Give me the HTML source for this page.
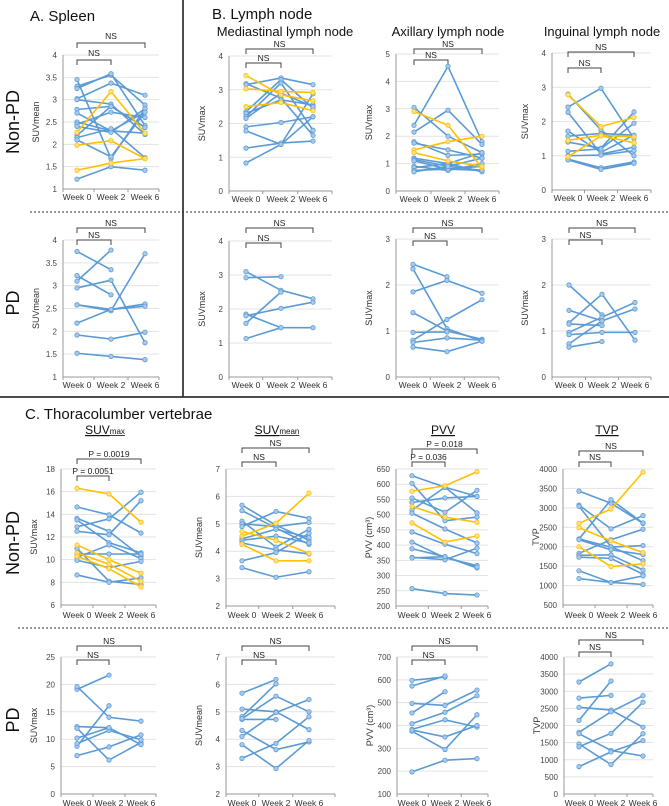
<!DOCTYPE html>
<html><head><meta charset="utf-8"><style>
html,body{margin:0;padding:0;background:#fff;}
svg{display:block;font-family:"Liberation Sans",sans-serif;}
</style></head><body>
<svg id="fig" width="669" height="806" viewBox="0 0 669 806" xmlns="http://www.w3.org/2000/svg">
<g fill="#111">
<text x="30" y="21" font-size="15">A.  Spleen</text>
<text x="212" y="19" font-size="15">B. Lymph node</text>
<text x="285" y="36" font-size="13" text-anchor="middle">Mediastinal lymph node</text>
<text x="448" y="36" font-size="13" text-anchor="middle">Axillary lymph node</text>
<text x="602" y="36" font-size="13" text-anchor="middle">Inguinal lymph node</text>
<text x="25" y="419" font-size="15">C. Thoracolumber vertebrae</text>
<text transform="translate(19,122) rotate(-90)" font-size="18" text-anchor="middle">Non-PD</text>
<text transform="translate(19,303) rotate(-90)" font-size="18" text-anchor="middle">PD</text>
<text transform="translate(19,543) rotate(-90)" font-size="18" text-anchor="middle">Non-PD</text>
<text transform="translate(19,720) rotate(-90)" font-size="18" text-anchor="middle">PD</text>
<text x="105" y="434" font-size="12" text-anchor="middle" text-decoration="underline">SUV<tspan font-size="8">max</tspan></text>
<text x="277" y="434" font-size="12" text-anchor="middle" text-decoration="underline">SUV<tspan font-size="8">mean</tspan></text>
<text x="443" y="434" font-size="12" text-anchor="middle" text-decoration="underline">PVV</text>
<text x="607" y="434" font-size="12" text-anchor="middle" text-decoration="underline">TVP</text>
</g>
<g>
<line x1="183" y1="0" x2="183" y2="397" stroke="#111" stroke-width="1.5"/>
<line x1="0" y1="397" x2="669" y2="397" stroke="#333" stroke-width="1.8"/>
<line x1="30" y1="212" x2="669" y2="212" stroke="#333" stroke-width="1" stroke-dasharray="2,2"/>
<line x1="18" y1="628" x2="669" y2="628" stroke="#333" stroke-width="1" stroke-dasharray="2,2"/>
</g>
<g id="charts"></g>
</svg>
<script>
// ---- data ----
const weeks = ["Week 0","Week 2","Week 6"];
const spleenNonPdBlue = [[1.22,1.5,1.42],[3.45,1.68,2.8],[3.3,3.55,2.88],[3.25,3.58,2.42],[3.02,3.37,3.1],[3.0,2.9,2.22],[2.78,2.85,2.38],[2.7,2.3,2.25],[2.5,2.3,2.72],[2.45,2.72,2.6],[2.4,2.27,2.8],[2.2,2.85,2.38],[2.15,2.35,1.7],[2.1,1.72,2.72]];
const spleenNonPdYellow = [[2.27,3.18,2.25],[1.98,2.08,1.68],[1.42,1.58,1.68]];
const spleenPdBlue = [[3.75,3.35,null],[3.22,2.8,null],[3.1,3.78,null],[2.95,3.12,1.75],[2.58,2.45,3.7],[2.58,2.48,2.6],[2.18,2.48,2.55],[1.92,1.83,1.98],[1.52,1.45,1.38]];
const medNonPdBlue = [[3.18,2.75,1.65],[3.15,3.35,3.15],[2.35,3.3,2.45],[2.3,2.7,2.55],[2.2,3.2,1.8],[2.15,2.9,2.5],[1.9,2.03,2.2],[1.78,1.38,2.88],[1.27,1.42,1.48],[0.83,1.38,2.2]];
const medNonPdYellow = [[3.42,2.85,2.67],[3.03,2.95,2.92],[2.5,2.62,2.38]];
const axNonPdBlue = [[3.05,2.0,1.4],[2.4,4.55,1.8],[2.15,2.95,1.7],[1.8,1.3,1.35],[1.75,1.5,1.2],[1.2,1.0,1.4],[1.15,0.9,1.2],[1.1,0.8,0.75],[0.9,0.75,1.0],[0.85,1.0,0.7],[0.75,0.8,0.9],[0.7,0.9,0.75]];
const axNonPdYellow = [[2.9,2.4,0.85],[1.5,1.8,2.0],[1.4,1.1,0.9]];
const ingNonPdBlue = [[2.8,1.75,1.0],[2.42,2.97,1.5],[2.27,1.05,1.25],[1.72,1.1,1.6],[1.57,1.65,1.6],[1.4,1.22,2.28],[1.13,1.2,1.95],[1.0,1.02,1.15],[0.9,0.65,0.82],[0.88,0.6,0.78]];
const ingNonPdYellow = [[2.78,1.85,2.12],[1.45,1.6,1.55],[0.97,1.58,1.38]];
const medPdBlue = [[3.1,2.55,2.3],[2.92,2.95,null],[1.85,1.45,1.45],[1.8,2.02,2.2],[1.58,2.5,null],[1.13,1.45,null]];
const axPdBlue = [[2.45,2.18,null],[2.35,1.05,0.78],[1.85,2.1,1.82],[1.4,1.0,0.82],[0.97,0.98,null],[0.8,1.25,1.68],[0.75,0.85,0.8],[0.65,0.55,0.78]];
const ingPdBlue = [[2.0,1.35,null],[1.45,1.22,null],[1.18,1.8,0.8],[1.15,1.12,null],[0.97,1.3,1.62],[0.92,0.97,0.97],[0.72,1.22,1.48],[0.65,0.77,null]];
const vSuvmaxNonPdBlue = [[14.65,13.95,12.35],[13.65,12.5,10.3],[13.5,11.5,10.6],[12.9,13.6,15.95],[12.5,12.2,15.2],[11.0,8.1,7.8],[10.5,10.5,10.5],[10.2,11.3,10.1],[9.95,9.3,9.85],[8.65,8.0,8.4]];
const vSuvmaxNonPdYellow = [[16.3,15.8,13.3],[11.3,10.0,8.8],[10.6,9.6,8.1],[10.3,9.2,7.6]];
const vSuvmeanNonPdBlue = [[5.68,4.95,4.4],[5.48,4.85,4.25],[5.1,4.15,4.8],[5.0,4.9,5.05],[4.9,5.45,5.2],[4.45,4.8,4.5],[4.4,4.55,4.3],[4.3,4.05,3.9],[3.65,3.95,4.65],[3.4,3.05,3.25]];
const vSuvmeanNonPdYellow = [[4.55,5.02,6.12],[4.72,4.4,3.92],[4.25,3.65,3.65]];
const pvvNonPdBlue = [[628,590,506],[603,480,492],[555,508,580],[540,555,560],[515,590,560],[505,453,407],[443,403,372],[410,358,333],[388,362,325],[360,352,390],[358,362,328],[257,241,236]];
const pvvNonPdYellow = [[577,595,641],[527,492,475],[473,410,430]];
const tvpNonPdBlue = [[3430,3120,2600],[3070,2460,2800],[3040,2000,1640],[2200,3210,2610],[2200,1990,2030],[2180,1920,1800],[1830,2180,2450],[1780,1790,1400],[1730,1700,1290],[1380,1080,1250],[1180,1080,1030]];
const tvpNonPdYellow = [[2600,2970,3920],[2490,2150,1850],[2000,1490,1560]];
const vSuvmaxPdBlue = [[19.1,21.7,null],[19.6,14.0,13.3],[12.3,12.1,null],[12.0,6.2,9.4],[8.7,16.1,null],[9.2,11.6,9.9],[7.0,8.6,10.8],[10.2,12.1,9.0]];
const vSuvmeanPdBlue = [[5.68,6.18,null],[4.72,4.72,null],[4.82,6.02,null],[5.1,5.0,4.35],[4.1,4.97,5.45],[4.32,3.62,3.9],[3.8,2.93,3.95],[3.3,3.85,4.82],[4.75,5.57,5.0]];
const pvvPdBlue = [[598,612,null],[573,617,null],[497,488,555],[455,548,null],[408,458,530],[383,425,393],[375,295,447],[380,350,400],[197,248,255]];
const tvpPdBlue = [[3270,3800,null],[2800,2880,null],[2530,2450,1950],[2150,3300,null],[1800,2400,2870],[1760,1270,1110],[1460,860,1760],[1380,1770,2680],[800,1230,1560]];
// tick label arrays
const ticksSpleen = [1,1.5,2,2.5,3,3.5,4];
const ticks0to4 = [0,1,2,3,4];
const ticks0to5 = [0,1,2,3,4,5];
const ticks0to3 = [0,1,2,3];
const ticksVSuvmaxN = [6,8,10,12,14,16,18];
const ticksVSuvmean = [2,3,4,5,6,7];
const ticksPvvN = [200,250,300,350,400,450,500,550,600,650];
const ticksTvpN = [500,1000,1500,2000,2500,3000,3500,4000];
const ticksVSuvmaxP = [0,5,10,15,20,25];
const ticksPvvP = [100,200,300,400,500,600,700];
const ticksTvpP = [0,500,1000,1500,2000,2500,3000,3500,4000];

// ---- layout ----
const NS="http://www.w3.org/2000/svg";
const root=document.getElementById('charts');
function mk(tag,attrs,parent){const e=document.createElementNS(NS,tag);for(const k in attrs)e.setAttribute(k,attrs[k]);parent.appendChild(e);return e;}
const panels=[
 {id:'spleen-nonpd',ax:63,r:159,yT:55,yB:189,ticks:ticksSpleen,lab:'SUVmean',wx:[77,111,145],wy:200,blue:spleenNonPdBlue,yel:spleenNonPdYellow,fmt:1,br:[[37,43,'NS',145],[54,60,'NS',111]]},
 {id:'mediastinal-nonpd',ax:229,r:332,yT:56,yB:191,ticks:ticks0to4,lab:'SUVmax',wx:[246,281,313],wy:202,blue:medNonPdBlue,yel:medNonPdYellow,br:[[45,49,'NS',313],[59,63,'NS',281]]},
 {id:'axillary-nonpd',ax:396,r:499,yT:54,yB:191,ticks:ticks0to5,lab:'SUVmax',wx:[414,448,482],wy:202,blue:axNonPdBlue,yel:axNonPdYellow,br:[[45,49,'NS',482],[56,60,'NS',448]]},
 {id:'inguinal-nonpd',ax:552,r:651,yT:53,yB:190,ticks:ticks0to4,lab:'SUVmax',wx:[568,601,634],wy:201,blue:ingNonPdBlue,yel:ingNonPdYellow,br:[[48,52,'NS',634],[64,68,'NS',601]]},
 {id:'spleen-pd',ax:63,r:159,yT:240,yB:377,ticks:ticksSpleen,lab:'SUVmean',wx:[77,111,145],wy:388,blue:spleenPdBlue,yel:[],fmt:1,br:[[224,228,'NS',145],[236,240,'NS',111]]},
 {id:'mediastinal-pd',ax:229,r:332,yT:241,yB:377,ticks:ticks0to4,lab:'SUVmax',wx:[246,281,313],wy:388,blue:medPdBlue,yel:[],br:[[224,228,'NS',313],[239,243,'NS',281]]},
 {id:'axillary-pd',ax:396,r:499,yT:239,yB:377,ticks:ticks0to3,lab:'SUVmax',wx:[413,447,482],wy:388,blue:axPdBlue,yel:[],br:[[224,228,'NS',482],[237,241,'NS',447]]},
 {id:'inguinal-pd',ax:552,r:651,yT:239,yB:377,ticks:ticks0to3,lab:'SUVmax',wx:[569,602,635],wy:388,blue:ingPdBlue,yel:[],br:[[224,228,'NS',635],[236,240,'NS',602]]},
 {id:'vert-suvmax-nonpd',ax:61,r:156,yT:469,yB:605,ticks:ticksVSuvmaxN,lab:'SUVmax',wx:[77,109,141],wy:618,blue:vSuvmaxNonPdBlue,yel:vSuvmaxNonPdYellow,br:[[455,459,'P = 0.0019',141],[472,476,'P = 0.0051',109]]},
 {id:'vert-suvmean-nonpd',ax:226,r:335,yT:469,yB:606,ticks:ticksVSuvmean,lab:'SUVmean',wx:[242,276,309],wy:618,blue:vSuvmeanNonPdBlue,yel:vSuvmeanNonPdYellow,br:[[444,448,'NS',309],[458,462,'NS',276]]},
 {id:'pvv-nonpd',ax:396,r:488,yT:469,yB:606,ticks:ticksPvvN,lab:'PVV (cm³)',wx:[412,445,477],wy:618,blue:pvvNonPdBlue,yel:pvvNonPdYellow,br:[[445,449,'P = 0.018',477],[458,462,'P = 0.036',445]]},
 {id:'tvp-nonpd',ax:563,r:653,yT:469,yB:605,ticks:ticksTvpN,lab:'TVP',wx:[579,611,643],wy:618,blue:tvpNonPdBlue,yel:tvpNonPdYellow,br:[[447,451,'NS',643],[458,462,'NS',611]]},
 {id:'vert-suvmax-pd',ax:61,r:156,yT:657,yB:794,ticks:ticksVSuvmaxP,lab:'SUVmax',wx:[77,109,141],wy:806,blue:vSuvmaxPdBlue,yel:[],br:[[642,646,'NS',141],[656,660,'NS',109]]},
 {id:'vert-suvmean-pd',ax:226,r:335,yT:657,yB:794,ticks:ticksVSuvmean,lab:'SUVmean',wx:[242,276,309],wy:806,blue:vSuvmeanPdBlue,yel:[],br:[[642,646,'NS',309],[656,660,'NS',276]]},
 {id:'pvv-pd',ax:397,r:488,yT:657,yB:794,ticks:ticksPvvP,lab:'PVV (cm³)',wx:[412,445,477],wy:806,blue:pvvPdBlue,yel:[],br:[[642,646,'NS',477],[656,660,'NS',445]]},
 {id:'tvp-pd',ax:564,r:653,yT:657,yB:794,ticks:ticksTvpP,lab:'TVP',wx:[579,611,643],wy:806,blue:tvpPdBlue,yel:[],br:[[636,640,'NS',643],[648,652,'NS',611]]}
];
panels.forEach(p=>{
 const g=mk('g',{},root);
 
 
 const vmin=p.ticks[0],vmax=p.ticks[p.ticks.length-1];
 const y=v=>p.yB-(v-vmin)/(vmax-vmin)*(p.yB-p.yT);
 p.ticks.forEach(t=>{
  if(t!==vmin){const gl=mk('line',{x1:p.ax,x2:p.r,y1:y(t),y2:y(t),stroke:'#e3e3e3','stroke-width':1},g);
   
   }
  const tl=mk('text',{x:p.ax-6,y:y(t)+3,'font-size':8,'text-anchor':'end',fill:'#444'},g);
  
  
  tl.textContent=p.fmt?String(t):String(t);
 });
 const ya=mk('line',{x1:p.ax,x2:p.ax,y1:p.yT,y2:p.yB,stroke:'#999','stroke-width':1},g);
 
 
 const xa=mk('line',{x1:p.ax,x2:p.r,y1:p.yB,y2:p.yB,stroke:'#999','stroke-width':1},g);
 
 
 const step=(p.wx[2]-p.wx[0])/2;
 [p.ax,p.wx[0]+step/2,p.wx[1]+step/2,p.r].forEach(tx=>{mk('line',{x1:tx,x2:tx,y1:p.yB,y2:p.yB+3,stroke:'#999'},g);});
 weeks.forEach((w,i)=>{
  const t=mk('text',{x:p.wx[i],y:p.wy,'font-size':8.5,'text-anchor':'middle',fill:'#333'},g);
  
  
  t.textContent=w;
 });
 const yl=mk('text',{transform:`translate(${p.ax-24},${(p.yT+p.yB)/2}) rotate(-90)`,'font-size':9,'text-anchor':'middle',fill:'#333'},g);
 
 
 yl.textContent=p.lab;
 p.br.forEach(b=>{
  const x1=p.wx[0],x2=b[3];
  const bp=mk('path',{d:`M${x1},${b[1]+5}V${b[1]}H${x2}V${b[1]+5}`,fill:'none',stroke:'#444','stroke-width':1},g);
  
  
  const bt=mk('text',{x:(x1+x2)/2,y:b[0]+2,'font-size':8.5,'text-anchor':'middle',fill:'#222'},g);
  
  
  bt.textContent=b[2];
 });
 const drawSeries=(arr,col,fill,name)=>{
  arr.forEach(s=>{
   const pts=[];s.forEach((v,i)=>{if(v!==null)pts.push([p.wx[i],y(v)]);});
   const pl=mk('polyline',{points:pts.map(q=>q.join(',')).join(' '),fill:'none',stroke:col,'stroke-width':1.6},g);
   
   
   pts.forEach(q=>{const c=mk('circle',{cx:q[0],cy:q[1],r:2.2,fill:fill,stroke:col,'stroke-width':0.8},g);
    
    });
  });
 };
 drawSeries(p.blue,'#5b9bd5','#a9c9ec','patient');
 drawSeries(p.yel,'#ffc000','#ffe08a','highlight-patient');
});
</script>
</body></html>
